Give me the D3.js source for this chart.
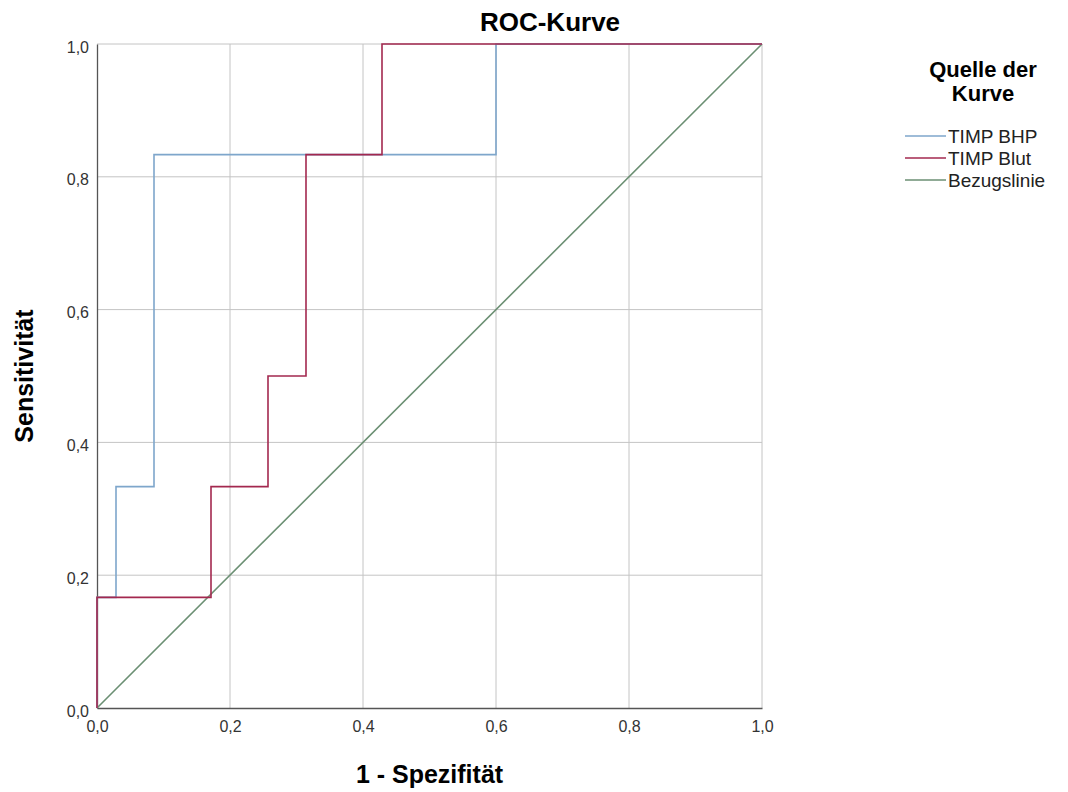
<!DOCTYPE html>
<html>
<head>
<meta charset="utf-8">
<script src="https://cdn.jsdelivr.net/npm/d3@7"></script>
<style>
  body { margin: 0; background: #fff; }
  svg { font-family: "Liberation Sans", Arial, sans-serif; }
</style>
</head>
<body>
<svg id="chart" width="1068" height="792"></svg>
<script>
// ROC steps: 35 negatives, 6 positives
const BHP_FPR = [0, 0, 1/35, 1/35, 3/35, 3/35, 21/35, 21/35, 1];
const BHP_TPR = [0, 1/6, 1/6, 2/6, 2/6, 5/6, 5/6, 1, 1];
const BLUT_FPR = [0, 0, 6/35, 6/35, 9/35, 9/35, 11/35, 11/35, 15/35, 15/35, 1];
const BLUT_TPR = [0, 1/6, 1/6, 2/6, 2/6, 3/6, 3/6, 5/6, 5/6, 1, 1];
const REF_X = [0, 1];
const REF_Y = [0, 1];
const TICKS = [0, 0.2, 0.4, 0.6, 0.8, 1.0];
const SERIES_NAMES = ['TIMP BHP', 'TIMP Blut', 'Bezugslinie'];
const COLORS = ['#7ea6cb', '#a3284f', '#6b8f73'];

const svg = d3.select('#chart');
const plotL = 97, plotR = 762, plotT = 44, plotB = 708;

const x = d3.scaleLinear().domain([0, 1]).range([plotL, plotR]);
const y = d3.scaleLinear().domain([0, 1]).range([plotB, plotT]);
const fmt = d => d.toFixed(1).replace('.', ',');

// grid
svg.append('g')
  .selectAll('line')
  .data(TICKS.slice(1))
  .enter().append('line')
    .attr('x1', d => x(d)).attr('x2', d => x(d))
    .attr('y1', plotT).attr('y2', plotB)
    .attr('stroke', '#c4c4c4').attr('stroke-width', 1);
svg.append('g')
  .selectAll('line')
  .data(TICKS.slice(1))
  .enter().append('line')
    .attr('x1', plotL).attr('x2', plotR)
    .attr('y1', d => y(d)).attr('y2', d => y(d))
    .attr('stroke', '#c4c4c4').attr('stroke-width', 1);

// axes
const xAxis = svg.append('g')
  .attr('transform', `translate(0,${plotB})`)
  .call(d3.axisBottom(x).tickValues(TICKS).tickFormat(fmt).tickSize(0).tickPadding(13));
const yAxis = svg.append('g')
  .attr('transform', `translate(${plotL},0)`)
  .call(d3.axisLeft(y).tickValues(TICKS).tickFormat(fmt).tickSize(0).tickPadding(8));
[xAxis, yAxis].forEach(a => {
  a.select('.domain').attr('stroke', '#555').attr('stroke-width', 1.3);
  a.selectAll('text').attr('font-size', 16).attr('fill', '#333')
    .attr('font-family', '"Liberation Sans", Arial, sans-serif');
});
yAxis.selectAll('.tick text').attr('y', 3);

const line = d3.line().x(d => x(d[0])).y(d => y(d[1]));
const series = [
  d3.zip(REF_X, REF_Y),
  d3.zip(BHP_FPR, BHP_TPR),
  d3.zip(BLUT_FPR, BLUT_TPR)
];
const seriesColors = [COLORS[2], COLORS[0], COLORS[1]];
svg.append('g')
  .selectAll('path')
  .data(series)
  .enter().append('path')
    .attr('d', line)
    .attr('fill', 'none')
    .attr('stroke', (d, i) => seriesColors[i])
    .attr('stroke-width', 1.6);

// titles
svg.append('text').text('ROC-Kurve')
  .attr('x', 550).attr('y', 31)
  .attr('text-anchor', 'middle').attr('font-size', 26).attr('font-weight', 'bold');
svg.append('text').text('1 - Spezifität')
  .attr('x', (plotL + plotR) / 2).attr('y', 783)
  .attr('text-anchor', 'middle').attr('font-size', 25).attr('font-weight', 'bold');
svg.append('text').text('Sensitivität')
  .attr('transform', `translate(33,${(plotT + plotB) / 2}) rotate(-90)`)
  .attr('text-anchor', 'middle').attr('font-size', 25).attr('font-weight', 'bold');

// legend
const legend = svg.append('g');
legend.append('text')
  .attr('x', 983).attr('y', 77)
  .attr('text-anchor', 'middle').attr('font-size', 22).attr('font-weight', 'bold')
  .selectAll('tspan')
  .data(['Quelle der', 'Kurve'])
  .enter().append('tspan')
    .attr('x', 983).attr('dy', (d, i) => i ? 24 : 0)
    .text(d => d);
const items = legend.selectAll('g.item')
  .data(SERIES_NAMES)
  .enter().append('g')
    .attr('class', 'item')
    .attr('transform', (d, i) => `translate(0,${136 + i * 22})`);
items.append('line')
  .attr('x1', 905).attr('x2', 946)
  .attr('stroke', (d, i) => COLORS[i]).attr('stroke-width', 1.6);
items.append('text')
  .attr('x', 948).attr('y', 7)
  .attr('font-size', 19).attr('fill', '#222')
  .text(d => d);
</script>
</body>
</html>
